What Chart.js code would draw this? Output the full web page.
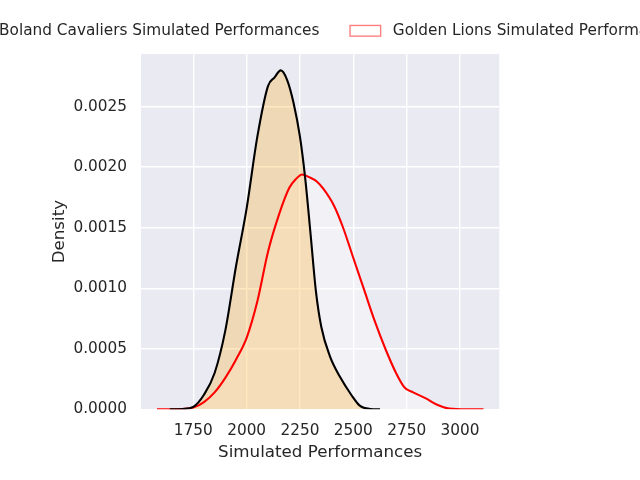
<!DOCTYPE html>
<html>
<head>
<meta charset="utf-8">
<script src="https://cdn.jsdelivr.net/npm/chart.js@4"></script>
<style>
  html, body { margin: 0; padding: 0; background: #ffffff; overflow: hidden; }
  #wrap { width: 640px; height: 480px; }
</style>
</head>
<body>
<div id="wrap"><canvas id="kdeChart" width="640" height="480"></canvas></div>
<script>
// values
const bolandX = [1640, 1700, 1750, 1800, 1850, 1900, 1950, 2000, 2050, 2100, 2130, 2160, 2190, 2220, 2250, 2275, 2300, 2325, 2350, 2390, 2440, 2490, 2530, 2580, 2625];
const bolandDensity = [0, 0.000003, 0.00002, 0.00012, 0.0003, 0.00065, 0.00118, 0.00166, 0.00225, 0.00267, 0.00274, 0.0028, 0.00272, 0.00253, 0.00225, 0.0019, 0.00144, 0.00097, 0.00068, 0.00044, 0.00026, 0.00012, 0.00003, 0.000003, 0];

const lionsX = [1580, 1690, 1750, 1800, 1850, 1900, 1950, 2000, 2050, 2100, 2150, 2200, 2230, 2260, 2290, 2330, 2360, 2410, 2450, 2500, 2550, 2600, 2650, 2700, 2740, 2780, 2840, 2890, 2950, 3030, 3110];
const lionsDensity = [0, 0.000002, 0.000014, 0.00006, 0.00014, 0.00026, 0.00041, 0.00059, 0.00089, 0.0013, 0.0016, 0.00183, 0.0019, 0.00194, 0.00192, 0.00188, 0.00182, 0.00168, 0.00151, 0.00125, 0.00099, 0.00073, 0.0005, 0.0003, 0.00018, 0.00014, 0.00009, 0.00004, 0.000006, 0, 0];

const seriesNames = ["Boland Cavaliers Simulated Performances", "Golden Lions Simulated Performances"];
const xTickValues = [1750, 2000, 2250, 2500, 2750, 3000];
const yTickValues = [0, 0.0005, 0.001, 0.0015, 0.002, 0.0025];

const FONT = "'DejaVu Sans', sans-serif";
const TEXT = "#262626";

const zip = (xs, ys) => xs.map((x, i) => ({ x: x, y: ys[i] }));

// grey seaborn-style panel behind the grid
const panelBackground = {
  id: "panelBackground",
  beforeDraw(chart) {
    const { ctx, chartArea } = chart;
    ctx.save();
    ctx.fillStyle = "#eaeaf2";
    ctx.fillRect(chartArea.left, chartArea.top, chartArea.right - chartArea.left, chartArea.bottom - chartArea.top);
    ctx.restore();
  },
};

// matplotlib-like legend row, centred on the figure and allowed to run off the edges
const figureLegend = {
  id: "figureLegend",
  afterDraw(chart) {
    const ctx = chart.ctx;
    const size = 15.3;
    const handle = 30.6, handleH = 10.7, textPad = 12.2, colGap = 30.6;
    const cy = 30.8;
    ctx.save();
    ctx.font = size + "px " + FONT;
    ctx.textBaseline = "middle";
    const widths = seriesNames.map((t) => ctx.measureText(t).width);
    const total = widths.reduce((a, w) => a + handle + textPad + w, 0) + colGap * (seriesNames.length - 1);
    let x = 320 - total / 2;
    const faces = ["rgba(255,165,0,0.25)", "rgba(255,255,255,0.35)"];
    const edges = ["rgba(255,165,0,0.25)", "rgba(255,0,0,0.5)"];
    seriesNames.forEach((name, i) => {
      ctx.fillStyle = faces[i];
      ctx.fillRect(x, cy - handleH / 2, handle, handleH);
      ctx.strokeStyle = edges[i];
      ctx.lineWidth = 1.4;
      ctx.strokeRect(x, cy - handleH / 2, handle, handleH);
      ctx.fillStyle = TEXT;
      ctx.fillText(name, x + handle + textPad, cy);
      x += handle + textPad + widths[i] + colGap;
    });
    ctx.restore();
  },
};

new Chart(document.getElementById("kdeChart"), {
  type: "line",
  data: {
    datasets: [
      {
        label: seriesNames[0],
        data: zip(bolandX, bolandDensity),
        borderColor: "#000000",
        backgroundColor: "rgba(255,165,0,0.25)",
        borderWidth: 2.1,
        pointRadius: 0,
        fill: "origin",
        cubicInterpolationMode: "monotone",
      },
      {
        label: seriesNames[1],
        data: zip(lionsX, lionsDensity),
        borderColor: "#ff0000",
        backgroundColor: "rgba(255,255,255,0.35)",
        borderWidth: 2.1,
        pointRadius: 0,
        fill: "origin",
        cubicInterpolationMode: "monotone",
      },
    ],
  },
  options: {
    responsive: false,
    animation: false,
    devicePixelRatio: 1,
    layout: { padding: { left: 0, right: 140.7, top: 54, bottom: 0 } },
    plugins: {
      legend: { display: false },
      tooltip: { enabled: false },
      filler: { drawTime: "beforeDatasetsDraw" },
    },
    scales: {
      x: {
        type: "linear",
        min: 1505,
        max: 3184,
        afterBuildTicks: (scale) => { scale.ticks = xTickValues.map((v) => ({ value: v })); },
        afterFit: (scale) => { scale.height = 70.7; },
        grid: { color: "#ffffff", lineWidth: 1.4, drawTicks: false },
        border: { display: false },
        ticks: { color: TEXT, font: { family: FONT, size: 15.3 }, padding: 13, maxRotation: 0, callback: (v) => String(v) },
        title: { display: true, text: "Simulated Performances", color: TEXT, font: { family: FONT, size: 16.7 }, padding: { top: 0, bottom: 17 } },
      },
      y: {
        min: 0,
        max: 0.002935,
        afterBuildTicks: (scale) => { scale.ticks = yTickValues.map((v) => ({ value: v })); },
        afterFit: (scale) => { scale.width = 141; },
        grid: { color: "#ffffff", lineWidth: 1.4, drawTicks: false },
        border: { display: false },
        ticks: { color: TEXT, font: { family: FONT, size: 15.3 }, padding: 14, callback: (v) => v.toFixed(4) },
        title: { display: true, text: "Density", color: TEXT, font: { family: FONT, size: 16.7 }, padding: { top: 50, bottom: 0 } },
      },
    },
  },
  plugins: [panelBackground, figureLegend],
});
</script>
</body>
</html>
